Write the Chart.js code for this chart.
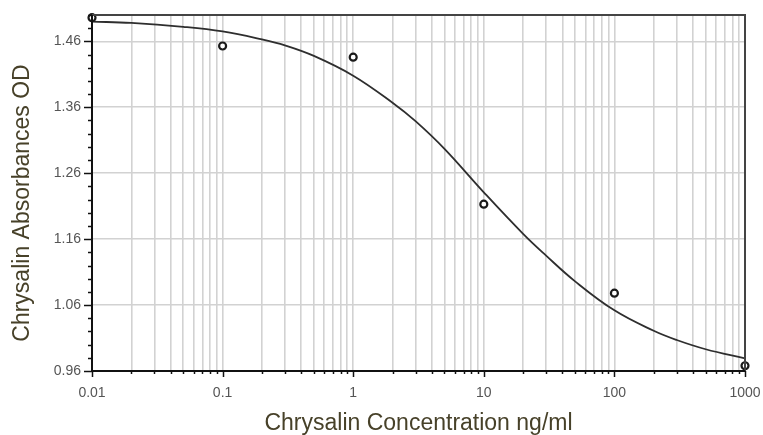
<!DOCTYPE html>
<html>
<head>
<meta charset="utf-8">
<script src="https://cdn.jsdelivr.net/npm/chart.js@4/dist/chart.umd.min.js"></script>
<style>
  html, body { margin: 0; padding: 0; background: #fff; }
  #wrap { width: 763px; height: 435px; }
</style>
</head>
<body>
<div id="wrap"><canvas id="curveChart"></canvas></div>
<script>
'use strict';

// measured standards
const stdConc = [0.01, 0.1, 1, 10, 100, 1000];
const stdOD   = [1.496, 1.453, 1.436, 1.213, 1.078, 0.968];

// fitted curve
const fitConc = [0.01, 0.02, 0.05, 0.1, 0.2, 0.3, 0.5, 1, 2, 3, 5, 10, 20, 30, 50, 100, 200, 300, 500, 1000];
const fitOD   = [1.490, 1.488, 1.482, 1.475, 1.463, 1.454, 1.438, 1.408, 1.367, 1.339, 1.297, 1.231, 1.168, 1.135, 1.096, 1.052, 1.021, 1.007, 0.993, 0.979];

// axis ticks
const xMajor       = [0.01, 0.1, 1, 10, 100, 1000];
const xMajorLabels = ['0.01', '0.1', '1', '10', '100', '1000'];
const yMajor       = [0.96, 1.06, 1.16, 1.26, 1.36, 1.46];
const yMin = 0.96, yMax = 1.5, yMinorStep = 0.02;

const TITLE_COLOR = '#474129';
const FONT = '"Liberation Sans", Arial, sans-serif';

// every 1..9 step of each decade, for the log grid
const xGrid = [];
xMajor.forEach((d, i) => {
  if (i === xMajor.length - 1) { xGrid.push(d); return; }
  for (let m = 1; m <= 9; m++) xGrid.push(+(d * m).toPrecision(3));
});

const isMajorX = v => xMajor.some(d => Math.abs(d - v) / d < 1e-6);

// axes frame, ticks and titles
const framePlugin = {
  id: 'frame',
  afterDraw(chart) {
    const { ctx, chartArea: a, scales: { x, y } } = chart;
    ctx.save();
    ctx.lineCap = 'butt';

    // top + right border
    ctx.strokeStyle = '#444';
    ctx.lineWidth = 2;
    ctx.beginPath();
    ctx.moveTo(a.left, a.top); ctx.lineTo(a.right, a.top); ctx.lineTo(a.right, a.bottom);
    ctx.stroke();

    // left + bottom axis
    ctx.strokeStyle = '#111';
    ctx.beginPath();
    ctx.moveTo(a.left, a.top); ctx.lineTo(a.left, a.bottom); ctx.lineTo(a.right, a.bottom);
    ctx.stroke();

    // y ticks
    ctx.lineWidth = 1.5;
    for (let v = yMin; v <= yMax + 1e-9; v += yMinorStep) {
      const py = Math.round(y.getPixelForValue(v)) + 0.5;
      const major = yMajor.some(m => Math.abs(m - v) < 1e-6);
      ctx.beginPath();
      ctx.moveTo(a.left - (major ? 8 : 4), py); ctx.lineTo(a.left, py);
      ctx.stroke();
    }
    // x ticks
    xGrid.forEach(v => {
      const px = Math.round(x.getPixelForValue(v)) + 0.5;
      ctx.beginPath();
      ctx.moveTo(px, a.bottom); ctx.lineTo(px, a.bottom + (isMajorX(v) ? 6 : 3));
      ctx.stroke();
    });

    // titles
    ctx.fillStyle = TITLE_COLOR;
    ctx.font = '23px ' + FONT;
    ctx.textAlign = 'center';
    ctx.textBaseline = 'alphabetic';
    ctx.fillText('Chrysalin Concentration ng/ml', (a.left + a.right) / 2, 430);
    ctx.translate(29, 203);
    ctx.rotate(-Math.PI / 2);
    ctx.fillText('Chrysalin Absorbances OD', 0, 0);
    ctx.restore();
  }
};

new Chart(document.getElementById('curveChart'), {
  type: 'scatter',
  data: {
    datasets: [
      {
        label: 'Fit',
        data: fitConc.map((c, i) => ({ x: c, y: fitOD[i] })),
        showLine: true,
        borderColor: '#2e2e2e',
        borderWidth: 1.8,
        pointRadius: 0,
        tension: 0.4,
        clip: false,
        order: 2
      },
      {
        label: 'Standards',
        data: stdConc.map((c, i) => ({ x: c, y: stdOD[i] })),
        pointStyle: 'circle',
        pointRadius: 3.5,
        borderWidth: 2.2,
        borderColor: '#1a1a1a',
        backgroundColor: '#fff',
        clip: false,
        order: 1
      }
    ]
  },
  options: {
    responsive: true,
    maintainAspectRatio: false,
    animation: false,
    layout: { padding: { top: 15, right: 18, left: 0, bottom: 0 } },
    plugins: { legend: { display: false }, tooltip: { enabled: false } },
    scales: {
      x: {
        type: 'logarithmic',
        min: 0.01, max: 1000,
        afterBuildTicks: s => { s.ticks = xGrid.map(v => ({ value: v })); },
        afterFit: s => { s.height = 64; s.paddingLeft = 0; s.paddingRight = 0; },
        grid: { color: '#d2d2d2', lineWidth: 1.6, drawTicks: false },
        border: { display: false },
        ticks: {
          autoSkip: false, maxRotation: 0, padding: 14,
          color: '#555', font: { family: FONT, size: 14 },
          callback: v => {
            const i = xMajor.findIndex(d => Math.abs(d - v) / d < 1e-6);
            return i >= 0 ? xMajorLabels[i] : '';
          }
        }
      },
      y: {
        min: yMin, max: yMax,
        afterBuildTicks: s => { s.ticks = yMajor.map(v => ({ value: v })); },
        afterFit: s => { s.width = 92; s.paddingTop = 0; s.paddingBottom = 0; },
        grid: { color: '#d2d2d2', lineWidth: 1.6, drawTicks: false },
        border: { display: false },
        ticks: {
          padding: 11,
          color: '#555', font: { family: FONT, size: 14 },
          callback: v => v.toFixed(2)
        }
      }
    }
  },
  plugins: [framePlugin]
});
</script>
</body>
</html>
